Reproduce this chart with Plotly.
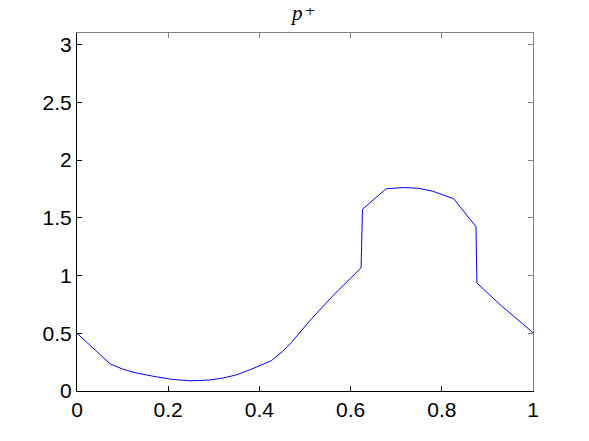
import plotly.graph_objects as go

# Data
x_vals = [0.0, 0.073, 0.10, 0.13, 0.175, 0.21, 0.25, 0.29, 0.32, 0.35, 0.38, 0.426,
          0.45, 0.47, 0.512, 0.56, 0.623, 0.626, 0.678, 0.70, 0.716, 0.75, 0.78, 0.826,
          0.875, 0.877, 0.93, 1.0]
y_vals = [0.50, 0.234, 0.19, 0.156, 0.122, 0.100, 0.088, 0.095, 0.112, 0.140, 0.185, 0.262,
          0.34, 0.42, 0.615, 0.82, 1.067, 1.574, 1.751, 1.760, 1.762, 1.755, 1.730, 1.665,
          1.422, 0.935, 0.74, 0.505]

x_ticks = [0, 0.2, 0.4, 0.6, 0.8, 1]
x_tick_text = ["0", "0.2", "0.4", "0.6", "0.8", "1"]
y_ticks = [0, 0.5, 1, 1.5, 2, 2.5, 3]
y_tick_text = ["0", "0.5", "1", "1.5", "2", "2.5", "3"]

fig = go.Figure()
fig.add_trace(go.Scatter(x=x_vals, y=y_vals, mode="lines",
                         line=dict(color="#0000ff", width=1), showlegend=False))
# invisible trace to activate mirrored axes
fig.add_trace(go.Scatter(x=[0], y=[0], xaxis="x2", yaxis="y2", mode="markers",
                         marker=dict(opacity=0), showlegend=False, hoverinfo="skip"))

font = dict(family="Liberation Sans, Arial, sans-serif", size=21, color="black")
serif = "Liberation Serif, DejaVu Serif, serif"

fig.update_layout(
    width=581, height=433,
    margin=dict(l=69, r=56, t=25, b=50),
    paper_bgcolor="white", plot_bgcolor="white",
    xaxis=dict(range=[0, 1], tickvals=x_ticks, ticktext=x_tick_text, ticks="inside",
               ticklen=5, tickcolor="black", showline=True, linecolor="black", linewidth=1,
               showgrid=False, zeroline=False, tickfont=font),
    yaxis=dict(range=[0, 3.1], tickvals=y_ticks, ticktext=y_tick_text, ticks="inside",
               ticklen=5, tickcolor="black", showline=True, linecolor="black", linewidth=1,
               showgrid=False, zeroline=False, tickfont=font),
    xaxis2=dict(range=[0, 1], overlaying="x", side="top", tickvals=x_ticks, showticklabels=False,
                ticks="inside", ticklen=5, tickcolor="#808080", showline=True, linecolor="#808080",
                linewidth=1, showgrid=False, zeroline=False),
    yaxis2=dict(range=[0, 3.1], overlaying="y", side="right", tickvals=y_ticks, showticklabels=False,
                ticks="inside", ticklen=5, tickcolor="#808080", showline=True, linecolor="#808080",
                linewidth=1, showgrid=False, zeroline=False),
    annotations=[
        dict(text="<i>p</i>", xref="paper", yref="paper", x=0.482, y=1.055,
             xanchor="center", yanchor="middle", showarrow=False,
             font=dict(family=serif, size=21, color="black")),
        dict(text="+", xref="paper", yref="paper", x=0.512, y=1.062,
             xanchor="center", yanchor="middle", showarrow=False,
             font=dict(family=serif, size=18, color="black")),
    ],
)

fig.write_html("out.html")
